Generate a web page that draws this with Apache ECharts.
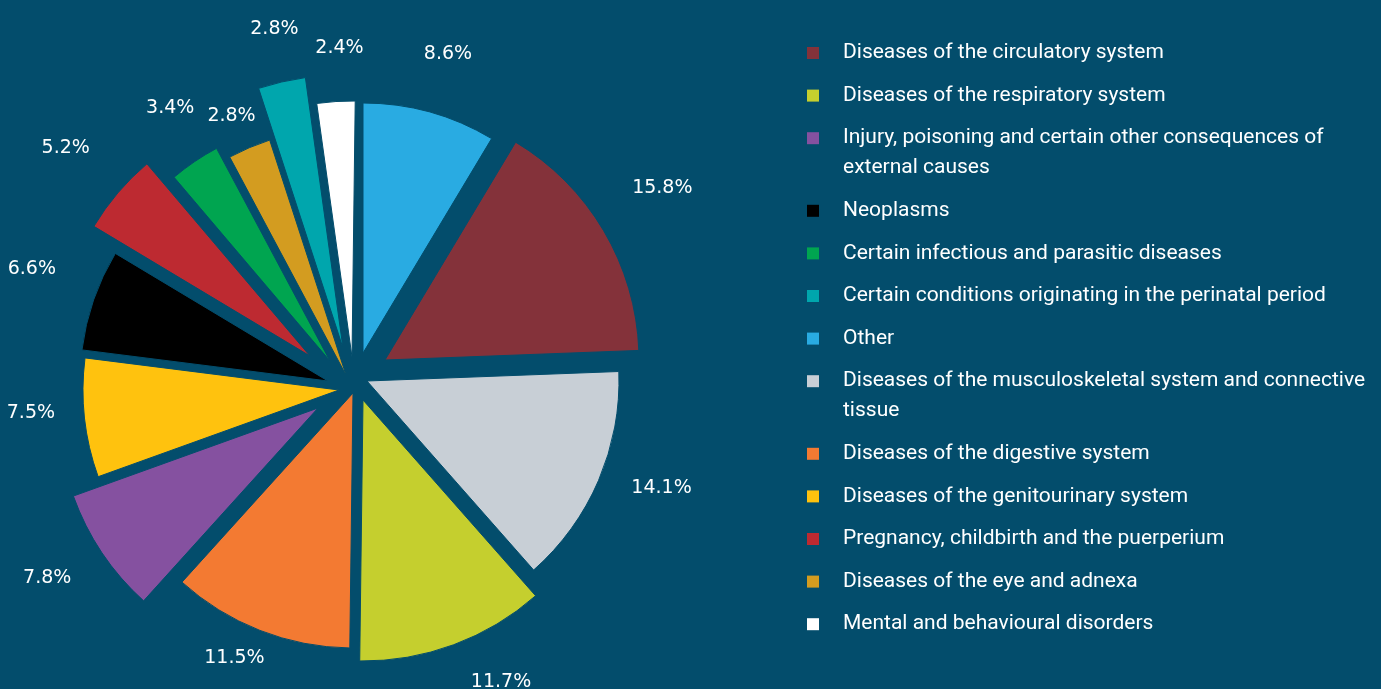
<!DOCTYPE html>
<html>
<head>
<meta charset="utf-8">
<script src="https://cdn.jsdelivr.net/npm/echarts@6/dist/echarts.min.js"></script>
<style>
  html, body { margin: 0; padding: 0; background: #034d6c; }
  #chart { width: 1381px; height: 689px; }
</style>
</head>
<body>
<div id="chart"></div>
<script>
// Causes, in clockwise order starting at 12 o'clock
const categories = [
  'Other',
  'Diseases of the circulatory system',
  'Diseases of the musculoskeletal system and connective\ntissue',
  'Diseases of the respiratory system',
  'Diseases of the digestive system',
  'Injury, poisoning and certain other consequences of\nexternal causes',
  'Diseases of the genitourinary system',
  'Neoplasms',
  'Pregnancy, childbirth and the puerperium',
  'Certain infectious and parasitic diseases',
  'Diseases of the eye and adnexa',
  'Certain conditions originating in the perinatal period',
  'Mental and behavioural disorders'
];
// Share of each cause, in percent
const shares = [8.6, 15.8, 14.1, 11.7, 11.5, 7.8, 7.5, 6.6, 5.2, 3.4, 2.8, 2.8, 2.4];
// Order in which the legend lists the causes
const legendOrder = [1, 3, 5, 7, 9, 11, 0, 2, 4, 6, 8, 10, 12];

// Styling
const bg = '#034d6c';
const sliceColors = ['#29abe2', '#84323a', '#c8cfd6', '#c5cf2e', '#f37a32', '#8551a0',
                     '#ffc20e', '#000000', '#bd2a31', '#00a550', '#d39c20', '#00a6ad', '#ffffff'];
// Outer radius of each wedge and how far it is pulled out of the centre (x, y)
const sliceRadius = [250, 254, 252, 261, 255, 260, 256, 248, 252, 241, 247, 273, 256];
const sliceOffset = [[13, -27], [35, -20], [17, 1], [13, 20], [3, 13], [-32, 28], [-11, 10],
                     [-22, 1], [-40, -24], [-20, -19], [-4, -5], [-7, -32], [2, -23]];
// Distance of each percentage label from the centre, plus a small hand nudge (x, y)
const labelRadius = [344, 366, 330, 334, 300, 361, 319, 337, 369, 329, 291, 361, 334];
const labelNudge = [[-4, 4], [-8, -6], [1, -17], [25, -9], [-8, -4], [-1, -7], [2, -11],
                    [8, -8], [7, 1], [15, -3], [2, 3], [10, 1], [12, 2]];

const cx = 350, cy = 380;
const labelFont = 'DejaVu Sans';
const legendFont = 'Roboto, sans-serif';

let cum = 0;
const series = shares.map((v, i) => {
  const start = cum;
  cum += v;
  const mid = (start + v / 2) * 3.6 * Math.PI / 180;
  const sx = Math.sin(mid), sy = -Math.cos(mid);
  const [ox, oy] = sliceOffset[i];
  const r = sliceRadius[i];
  const len = Math.max(2, labelRadius[i] - r - (ox * sx + oy * sy));
  return {
    type: 'pie',
    silent: true,
    animation: false,
    clockwise: true,
    startAngle: 90 - start * 3.6,
    center: [cx + ox, cy + oy],
    radius: [0, r],
    avoidLabelOverlap: false,
    label: {
      show: true, position: 'outside', formatter: '{c}%',
      color: '#ffffff', fontFamily: labelFont, fontSize: 19
    },
    labelLine: { show: false, length: len, length2: 0 },
    labelLayout: {
      align: 'center', verticalAlign: 'middle',
      dx: labelNudge[i][0], dy: labelNudge[i][1]
    },
    data: [
      { name: categories[i], value: v,
        itemStyle: { color: sliceColors[i], borderColor: bg, borderWidth: 1 } },
      { name: '', value: 100 - v,
        itemStyle: { color: 'rgba(0,0,0,0)', borderWidth: 0 }, label: { show: false } }
    ]
  };
});

// Legend swatches drawn as rich-text blocks so they sit on the first line of wrapped names
const rich = {
  t: { color: '#ffffff', fontSize: 21, fontFamily: legendFont, lineHeight: 30 },
  g: { width: 24, lineHeight: 30 },
  sp: { width: 36, lineHeight: 30 }
};
sliceColors.forEach((c, i) => {
  rich['s' + i] = { width: 12, height: 12, backgroundColor: c };
});

const chart = echarts.init(document.getElementById('chart'), null, { renderer: 'canvas' });
chart.setOption({
  backgroundColor: bg,
  animation: false,
  legend: {
    orient: 'vertical',
    left: 796,
    top: 33,
    itemWidth: 0,
    itemHeight: 0,
    itemGap: 12.6,
    selectedMode: false,
    data: legendOrder.map(i => categories[i]),
    formatter: name => {
      const i = categories.indexOf(name);
      return name.split('\n')
        .map((line, k) => (k === 0 ? '{s' + i + '|}{g|}' : '{sp|}') + '{t|' + line + '}')
        .join('\n');
    },
    textStyle: { fontSize: 21, lineHeight: 30, rich: rich }
  },
  series: series
});
</script>
</body>
</html>
